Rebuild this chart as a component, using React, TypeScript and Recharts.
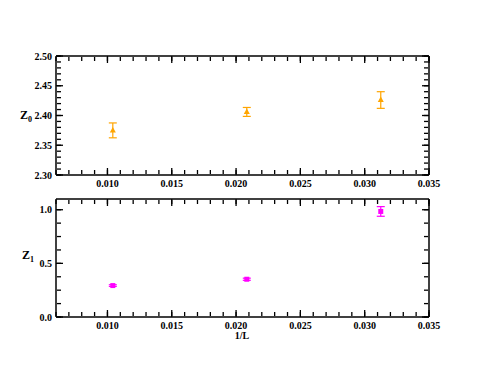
import React from "react";
import { ScatterChart, Scatter, XAxis, YAxis, ErrorBar } from "recharts";

const invL = [0.0104167, 0.0208333, 0.03125];
const z0 = [2.375, 2.406, 2.426];
const z0Err = [0.0125, 0.0075, 0.014];
const z1 = [0.293, 0.352, 0.984];
const z1Err = [0.008, 0.01, 0.045];

const xMajor = [0.01, 0.015, 0.02, 0.025, 0.03, 0.035];
const xMinor = Array.from({ length: 30 }, (_, i) => +(0.006 + i * 0.001).toFixed(3));
const y0Major = [2.3, 2.35, 2.4, 2.45, 2.5];
const y0Minor = Array.from({ length: 21 }, (_, i) => +(2.3 + i * 0.01).toFixed(2));
const y1Major = [0, 0.5, 1.0];
const y1Minor = [0, 0.125, 0.25, 0.375, 0.5, 0.625, 0.75, 0.875, 1.0];

const data0 = invL.map((x, i) => ({ x, y: z0[i], e: z0Err[i] }));
const data1 = invL.map((x, i) => ({ x, y: z1[i], e: z1Err[i] }));

const FONT = "'Liberation Serif', 'DejaVu Serif', serif";
const ORANGE = "#FFA500";
const MAGENTA = "#FF00FF";
const XDOM: [number, number] = [0.006, 0.035];

const Triangle = (props: any) => {
  const { cx, cy } = props;
  if (cx == null || cy == null) return <g />;
  return <polygon points={`${cx},${cy - 3.5} ${cx - 3},${cy + 2} ${cx + 3},${cy + 2}`} fill={ORANGE} />;
};
const Square = (props: any) => {
  const { cx, cy } = props;
  if (cx == null || cy == null) return <g />;
  return <rect x={cx - 2.5} y={cy - 2.5} width={5} height={5} fill={MAGENTA} />;
};
const Hidden = () => <g />;
const EmptyTick = () => <g />;

const makeBottomLabel = (digits: number) => (props: any) => {
  const x = Number(props.x);
  const y = Number(props.y);
  return (
    <text x={x} y={y + 19} textAnchor="middle" fontSize={10} fontWeight="bold" fontFamily={FONT} fill="#000">
      {Number(props.payload.value).toFixed(digits)}
    </text>
  );
};
const makeLeftLabel = (digits: number) => (props: any) => {
  const x = Number(props.x);
  const y = Number(props.y);
  return (
    <text x={x - 11} y={y + 3.5} textAnchor="end" fontSize={10} fontWeight="bold" fontFamily={FONT} fill="#000">
      {Number(props.payload.value).toFixed(digits)}
    </text>
  );
};
const bottomLabel = makeBottomLabel(3);
const leftLabel0 = makeLeftLabel(2);
const leftLabel1 = makeLeftLabel(1);

const frameLine = { stroke: "#000", strokeWidth: 1.5 };
const tl = { stroke: "#000", strokeWidth: 1.3 };

function Panel({ data, yDom, yMajor, yMinor, leftLabel, shape, color, height, margin, children }: any) {
  const c = { type: "number" as const, interval: 0 as const, allowDataOverflow: true, mirror: true, tickMargin: 0 };
  return (
    <ScatterChart width={485} height={height} margin={margin}>
      <XAxis xAxisId="xbM" dataKey="x" orientation="bottom" height={1} domain={XDOM} ticks={xMajor} tickSize={7} tickLine={tl} axisLine={frameLine} tick={bottomLabel} {...c} />
      <XAxis xAxisId="xtM" dataKey="x" orientation="top" height={1} domain={XDOM} ticks={xMajor} tickSize={7} tickLine={tl} axisLine={frameLine} tick={EmptyTick} {...c} />
      <YAxis yAxisId="ylM" dataKey="y" orientation="left" width={1} domain={yDom} ticks={yMajor} tickSize={7} tickLine={tl} axisLine={frameLine} tick={leftLabel} {...c} />
      <YAxis yAxisId="yrM" dataKey="y" orientation="right" width={1} domain={yDom} ticks={yMajor} tickSize={7} tickLine={tl} axisLine={frameLine} tick={EmptyTick} {...c} />
      <XAxis xAxisId="xbm" dataKey="x" orientation="bottom" height={1} domain={XDOM} ticks={xMinor} tickSize={4} tickLine={tl} axisLine={false} tick={EmptyTick} {...c} />
      <XAxis xAxisId="xtm" dataKey="x" orientation="top" height={1} domain={XDOM} ticks={xMinor} tickSize={4} tickLine={tl} axisLine={false} tick={EmptyTick} {...c} />
      <YAxis yAxisId="ylm" dataKey="y" orientation="left" width={1} domain={yDom} ticks={yMinor} tickSize={4} tickLine={tl} axisLine={false} tick={EmptyTick} {...c} />
      <YAxis yAxisId="yrm" dataKey="y" orientation="right" width={1} domain={yDom} ticks={yMinor} tickSize={4} tickLine={tl} axisLine={false} tick={EmptyTick} {...c} />
      <Scatter xAxisId="xtM" yAxisId="yrM" data={data} shape={Hidden} isAnimationActive={false} />
      <Scatter xAxisId="xbm" yAxisId="ylm" data={data} shape={Hidden} isAnimationActive={false} />
      <Scatter xAxisId="xtm" yAxisId="yrm" data={data} shape={Hidden} isAnimationActive={false} />
      <Scatter xAxisId="xbM" yAxisId="ylM" data={data} shape={shape} isAnimationActive={false}>
        <ErrorBar dataKey="e" direction="y" width={4} stroke={color} strokeWidth={1.2} />
      </Scatter>
      {children}
    </ScatterChart>
  );
}

export default function App() {
  return (
    <div style={{ position: "absolute", left: 0, top: 0, width: 485, height: 374, background: "#fff" }}>
      <div style={{ position: "absolute", left: 0, top: 0 }}>
        <Panel data={data0} yDom={[2.3, 2.5]} yMajor={y0Major} yMinor={y0Minor} leftLabel={leftLabel0} shape={Triangle} color={ORANGE} height={190} margin={{ top: 56, right: 56, bottom: 15, left: 56 }}>
          <text x={20} y={119} fontSize={12} fontWeight="bold" fontFamily={FONT} fill="#000">
            Z<tspan fontSize={8} dy={3}>0</tspan>
          </text>
        </Panel>
      </div>
      <div style={{ position: "absolute", left: 0, top: 190 }}>
        <Panel data={data1} yDom={[0, 1.1]} yMajor={y1Major} yMinor={y1Minor} leftLabel={leftLabel1} shape={Square} color={MAGENTA} height={184} margin={{ top: 9, right: 56, bottom: 57, left: 56 }}>
          <text x={22} y={69} fontSize={12} fontWeight="bold" fontFamily={FONT} fill="#000">
            Z<tspan fontSize={8} dy={3}>1</tspan>
          </text>
          <text x={242} y={149} textAnchor="middle" fontSize={10} fontWeight="bold" fontFamily={FONT} fill="#000">
            1/L
          </text>
        </Panel>
      </div>
    </div>
  );
}
